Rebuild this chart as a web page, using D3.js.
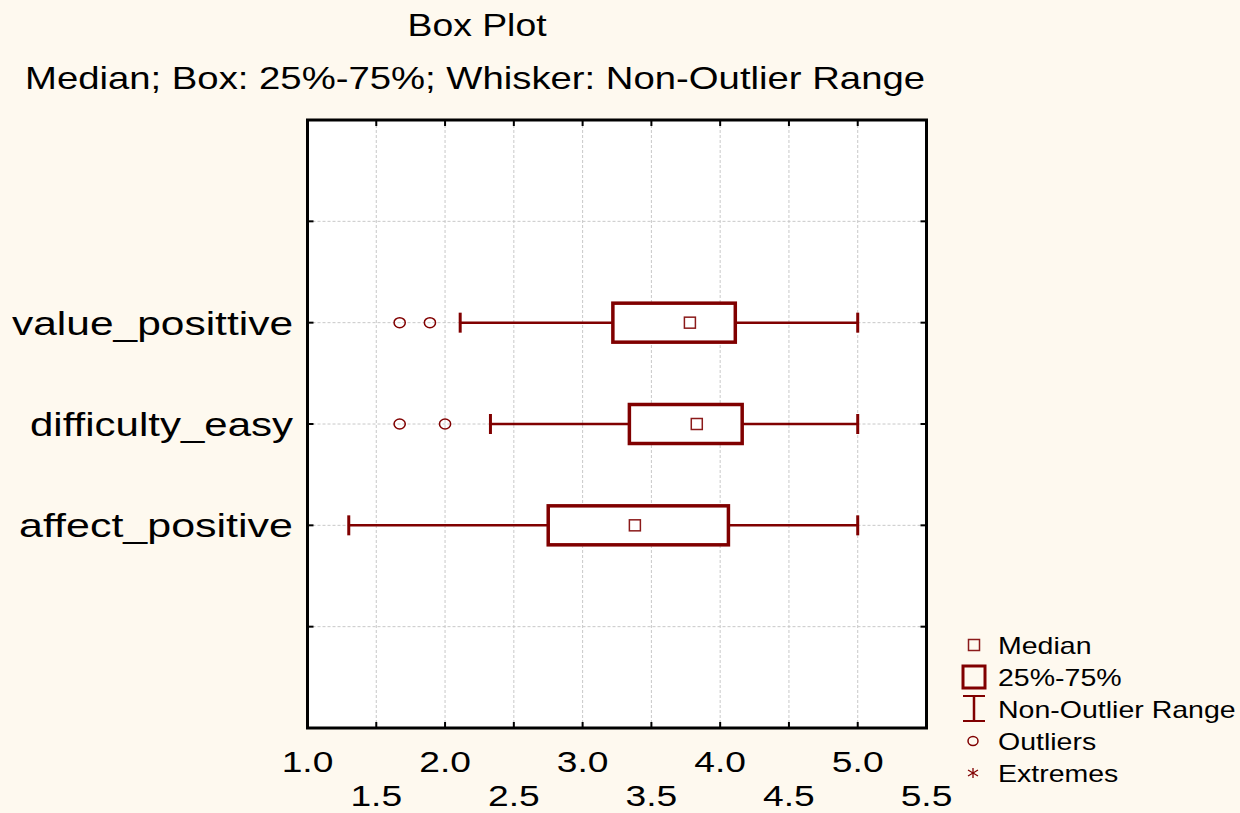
<!DOCTYPE html>
<html><head><meta charset="utf-8">
<script src="https://cdn.jsdelivr.net/npm/d3@7"></script>
<style>html,body{margin:0;padding:0;background:#fef9ef;}svg{display:block;}</style>
</head><body>
<svg id="c" width="1240" height="813"></svg>
<script>
const categories = ["value_posittive", "difficulty_easy", "affect_positive"];
const medians = [3.78, 3.83, 3.38];
const q1 = [3.22, 3.34, 2.75];
const q3 = [4.11, 4.16, 4.06];
const whiskerLow = [2.11, 2.33, 1.30];
const whiskerHigh = [5.0, 5.0, 5.0];
const outliers = [[1.67, 1.89], [1.67, 2.0], []];
const majorTicks = [1.0, 2.0, 3.0, 4.0, 5.0];
const minorTicks = [1.5, 2.5, 3.5, 4.5, 5.5];
const legendLabels = ["Median", "25%-75%", "Non-Outlier Range", "Outliers", "Extremes"];

const svg = d3.select("#c");
const RED = "#800000";
const SX = 1.24;
const FONT = "'Liberation Sans', Arial, sans-serif";

svg.append("rect").attr("width", 1240).attr("height", 813).attr("fill", "#fef9ef");

const x = d3.scaleLinear().domain([1.0, 5.5]).range([307.5, 926.5]);
const y = d3.scaleLinear().domain([0, 6]).range([120, 728]);
const catPos = i => y(i + 2);

function stext(t, px, py, size, anchor, width) {
  const el = svg.append("text")
    .attr("transform", `translate(${px},${py}) scale(${SX},1)`)
    .attr("text-anchor", anchor)
    .attr("font-family", FONT)
    .attr("font-size", size)
    .attr("fill", "#000")
    .text(t);
  if (width) el.attr("textLength", width / SX).attr("lengthAdjust", "spacingAndGlyphs");
  return el;
}

// plot background
svg.append("rect").attr("x", x(1)).attr("y", y(0)).attr("width", x(5.5) - x(1)).attr("height", y(6) - y(0)).attr("fill", "#fff");

// grid
const gridX = d3.range(1.5, 5.01, 0.5);
svg.append("g").selectAll("line").data(gridX).join("line")
  .attr("x1", d => x(d)).attr("x2", d => x(d)).attr("y1", y(0)).attr("y2", y(6))
  .attr("stroke", "#c8c8c8").attr("stroke-width", 1).attr("stroke-dasharray", "3,2");
svg.append("g").selectAll("line").data(d3.range(1, 6)).join("line")
  .attr("x1", x(1)).attr("x2", x(5.5)).attr("y1", d => y(d)).attr("y2", d => y(d))
  .attr("stroke", "#c8c8c8").attr("stroke-width", 1).attr("stroke-dasharray", "3,2");

// frame
svg.append("rect").attr("x", x(1)).attr("y", y(0)).attr("width", x(5.5) - x(1)).attr("height", y(6) - y(0))
  .attr("fill", "none").attr("stroke", "#000").attr("stroke-width", 3);

// inward ticks
const tk = svg.append("g").attr("stroke", "#000").attr("stroke-width", 2);
gridX.forEach(v => {
  tk.append("line").attr("x1", x(v)).attr("x2", x(v)).attr("y1", y(0)).attr("y2", y(0) + 6);
  tk.append("line").attr("x1", x(v)).attr("x2", x(v)).attr("y1", y(6)).attr("y2", y(6) - 6);
});
d3.range(1, 6).forEach(v => {
  tk.append("line").attr("x1", x(1)).attr("x2", x(1) + 6).attr("y1", y(v)).attr("y2", y(v));
  tk.append("line").attr("x1", x(5.5)).attr("x2", x(5.5) - 6).attr("y1", y(v)).attr("y2", y(v));
});

// boxes
categories.forEach((c, i) => {
  const cy = catPos(i);
  const g = svg.append("g");
  g.append("line").attr("x1", x(whiskerLow[i])).attr("x2", x(q1[i])).attr("y1", cy).attr("y2", cy)
    .attr("stroke", RED).attr("stroke-width", 2.5);
  g.append("line").attr("x1", x(q3[i])).attr("x2", x(whiskerHigh[i])).attr("y1", cy).attr("y2", cy)
    .attr("stroke", RED).attr("stroke-width", 2.5);
  [whiskerLow[i], whiskerHigh[i]].forEach(v => {
    g.append("line").attr("x1", x(v)).attr("x2", x(v)).attr("y1", cy - 10).attr("y2", cy + 10)
      .attr("stroke", RED).attr("stroke-width", 3);
  });
  g.append("rect").attr("x", x(q1[i])).attr("y", cy - 19.5).attr("width", x(q3[i]) - x(q1[i])).attr("height", 39)
    .attr("fill", "#fff").attr("stroke", RED).attr("stroke-width", 3.5);
  g.append("rect").attr("x", x(medians[i]) - 5.5).attr("y", cy - 5.5).attr("width", 11).attr("height", 11)
    .attr("fill", "#fff").attr("stroke", "#8b1a1a").attr("stroke-width", 1.5);
  g.selectAll("ellipse").data(outliers[i]).join("ellipse")
    .attr("cx", d => x(d)).attr("cy", cy).attr("rx", 5.6).attr("ry", 5)
    .attr("fill", "none").attr("stroke", RED).attr("stroke-width", 1.5);
});

// category labels
const labelWidths = [281, 263, 274];
categories.forEach((c, i) => stext(c, 293, catPos(i) + 12, 34, "end", labelWidths[i]));

// x tick labels
majorTicks.forEach(v => stext(v.toFixed(1), x(v), 772, 30, "middle"));
minorTicks.forEach(v => stext(v.toFixed(1), x(v), 806, 30, "middle"));

// titles
stext("Box Plot", 477, 36, 32, "middle", 139);
stext("Median; Box: 25%-75%; Whisker: Non-Outlier Range", 475, 89, 31, "middle", 900);

// legend
const ly = d3.scaleLinear().domain([0, 4]).range([645, 773]);
const lx = 974;
legendLabels.forEach((t, i) => stext(t, 998, ly(i) + 8.5, 23, "start"));
const lg = svg.append("g");
lg.append("rect").attr("x", lx - 5.5).attr("y", ly(0) - 5.5).attr("width", 11).attr("height", 11)
  .attr("fill", "none").attr("stroke", "#8b1a1a").attr("stroke-width", 1.5);
lg.append("rect").attr("x", lx - 11).attr("y", ly(1) - 11).attr("width", 22).attr("height", 22)
  .attr("fill", "none").attr("stroke", RED).attr("stroke-width", 3);
lg.append("line").attr("x1", lx).attr("x2", lx).attr("y1", ly(2) - 13).attr("y2", ly(2) + 12).attr("stroke", RED).attr("stroke-width", 2.5);
lg.append("line").attr("x1", lx - 11).attr("x2", lx + 11).attr("y1", ly(2) - 13).attr("y2", ly(2) - 13).attr("stroke", RED).attr("stroke-width", 2);
lg.append("line").attr("x1", lx - 11).attr("x2", lx + 11).attr("y1", ly(2) + 12).attr("y2", ly(2) + 12).attr("stroke", RED).attr("stroke-width", 2);
lg.append("ellipse").attr("cx", lx - 1).attr("cy", ly(3)).attr("rx", 5).attr("ry", 4.5)
  .attr("fill", "none").attr("stroke", RED).attr("stroke-width", 1.5);
const ex = lx - 1, ey = ly(4);
[[0, -5, 0, 5], [-5, -3, 5, 3], [-5, 3, 5, -3]].forEach(s => {
  lg.append("line").attr("x1", ex + s[0]).attr("y1", ey + s[1]).attr("x2", ex + s[2]).attr("y2", ey + s[3])
    .attr("stroke", RED).attr("stroke-width", 1.3);
});
</script>
</body></html>
